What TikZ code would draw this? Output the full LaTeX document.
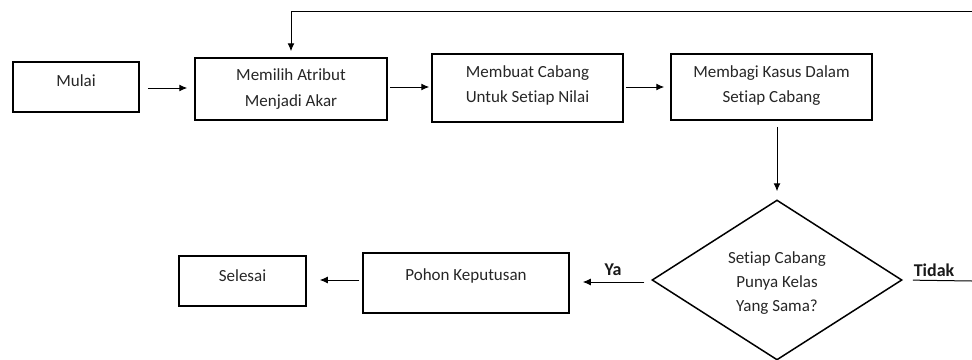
\documentclass[tikz,border=0pt]{standalone}
\usepackage{fontspec}
\setmainfont{Carlito}[Ligatures={NoCommon}]
\usetikzlibrary{shapes.geometric,arrows.meta}
\tikzset{
  box/.style={draw=black,line width=1.5pt,inner sep=0pt},
  txt/.style={text=black!85,font=\fontsize{17}{25.5}\selectfont,align=center,inner sep=0pt},
  lbl/.style={text=black!90,font=\bfseries\fontsize{18}{22}\selectfont,inner sep=0pt},
  arr/.style={line width=1pt,-{Latex[length=8pt,width=7pt]}},
  ln/.style={line width=1pt}
}
\begin{document}
\begin{tikzpicture}[x=1pt,y=-1pt]
\useasboundingbox (0,0) rectangle (972,359);
% boxes
\node[box,minimum width=126,minimum height=50] (mulai) at (76,87) {};
\node[box,minimum width=192,minimum height=62] (memilih) at (291,89) {};
\node[box,minimum width=191,minimum height=68] (membuat) at (527.5,88) {};
\node[box,minimum width=201,minimum height=66] (membagi) at (771.5,87) {};
\node[box,minimum width=206,minimum height=60] (pohon) at (466,283) {};
\node[box,minimum width=127,minimum height=50] (selesai) at (242.5,281) {};
\node[draw=black,line width=1.5pt,shape=diamond,aspect=1.5625,minimum width=250,minimum height=160,inner sep=0pt] (dec) at (777,280) {};
% texts
\node[txt] (tmulai) at (76,81) {Mulai};
\node[txt] (tmemilih) at (291,89) {Memilih Atribut\\Menjadi Akar};
\node[txt] (tmembuat) at (527.5,85.5) {Membuat Cabang\\Untuk Setiap Nilai};
\node[txt] (tmembagi) at (771.5,85.5) {Membagi Kasus Dalam\\Setiap Cabang};
\node[txt] (tpohon) at (466,276) {Pohon Keputusan};
\node[txt] (tselesai) at (242.5,276) {Selesai};
\node[txt,font=\fontsize{17}{24}\selectfont] (tdec) at (777,283) {Setiap Cabang\\Punya Kelas\\Yang Sama?};
\node[lbl] (ya) at (613,270) {Ya};
\node[lbl] (tidak) at (934,270) {Tidak};
% connectors
\coordinate (fbR) at (972,11);
\coordinate (tidR) at (972,281);
\draw[arr,shorten <=8pt,shorten >=7pt] (mulai.east |- 0,88) -- (memilih.west |- 0,88);
\draw[arr,shorten <=2pt,shorten >=2pt] (memilih.east |- 0,87) -- (membuat.west |- 0,87);
\draw[arr,shorten <=2pt,shorten >=6pt] (membuat.east |- 0,87) -- (membagi.west |- 0,87);
\draw[arr,shorten <=6pt,shorten >=8pt] (membagi.south -| dec.north) -- (dec.north);
\draw[arr,shorten >=6pt] (fbR) -| (memilih.north);
\draw[arr,shorten <=7pt,shorten >=13pt] (dec.west |- 0,282) -- (pohon.east |- 0,282);
\draw[arr,shorten <=3pt,shorten >=13pt] (pohon.west |- 0,280) -- (selesai.east |- 0,280);
\draw[ln,shorten <=10pt] (dec.east) -- (tidR);
\end{tikzpicture}
\end{document}
